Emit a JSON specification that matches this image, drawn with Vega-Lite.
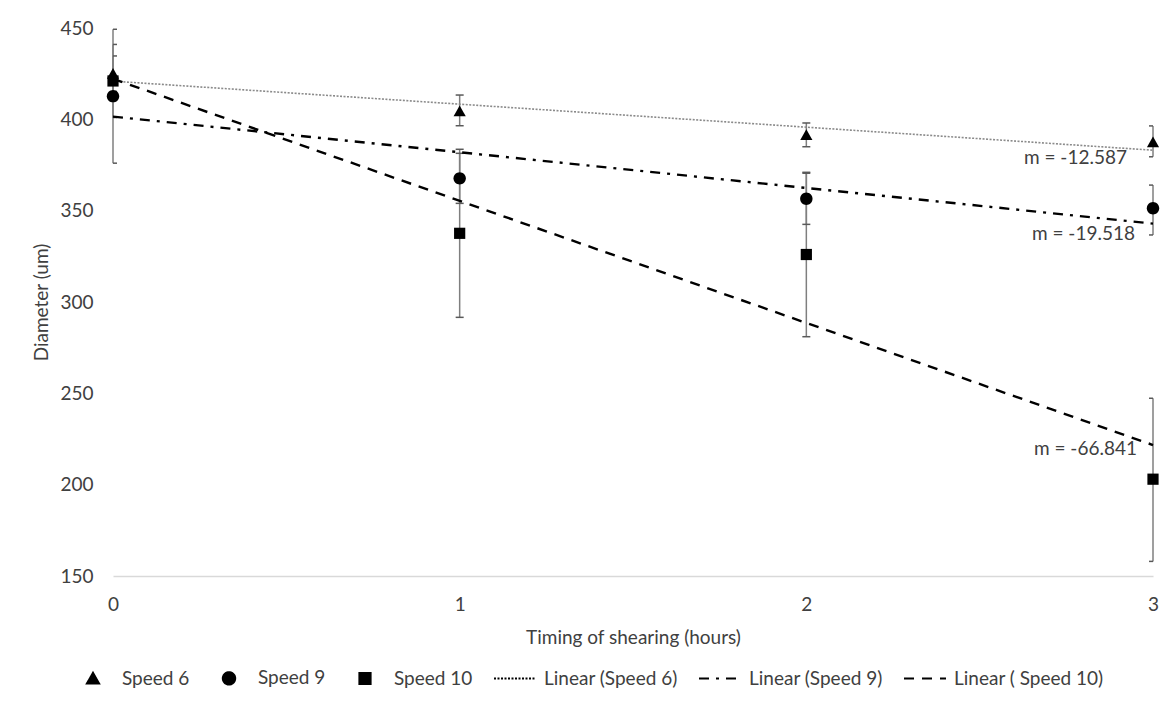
{
  "$schema": "https://vega.github.io/schema/vega-lite/v6.json",
  "width": 1040,
  "height": 548,
  "autosize": "none",
  "padding": {"left": 113, "top": 28, "right": 19, "bottom": 137},
  "background": "white",
  "config": {
    "view": {"stroke": null},
    "font": "Lato",
    "text": {"font": "Lato", "fontSize": 19, "color": "#404040"}
  },
  "datasets": {
    "points": [
      {"series": "Speed 6", "hours": 0, "diameter": 425, "lo": 415.3, "hi": 434.7},
      {"series": "Speed 6", "hours": 1, "diameter": 404.5, "lo": 396.5, "hi": 413.3},
      {"series": "Speed 6", "hours": 2, "diameter": 391.5, "lo": 385, "hi": 398},
      {"series": "Speed 6", "hours": 3, "diameter": 387.5, "lo": 379.5, "hi": 396.4},
      {"series": "Speed 9", "hours": 0, "diameter": 412.7, "lo": 376, "hi": 449.3},
      {"series": "Speed 9", "hours": 1, "diameter": 367.7, "lo": 354, "hi": 381.4},
      {"series": "Speed 9", "hours": 2, "diameter": 356.5, "lo": 342.5, "hi": 370.5},
      {"series": "Speed 9", "hours": 3, "diameter": 351.3, "lo": 336.7, "hi": 364},
      {"series": "Speed 10", "hours": 0, "diameter": 421, "lo": 401, "hi": 441},
      {"series": "Speed 10", "hours": 1, "diameter": 337.6, "lo": 291.6, "hi": 383.6},
      {"series": "Speed 10", "hours": 2, "diameter": 326, "lo": 281, "hi": 371},
      {"series": "Speed 10", "hours": 3, "diameter": 203, "lo": 158, "hi": 247.3}
    ],
    "trends": [
      {"series": "Linear (Speed 6)", "hours": 0, "diameter": 420.9, "label": "m = -12.587"},
      {"series": "Linear (Speed 6)", "hours": 3, "diameter": 383.1, "label": "m = -12.587"},
      {"series": "Linear (Speed 9)", "hours": 0, "diameter": 401.5, "label": "m = -19.518"},
      {"series": "Linear (Speed 9)", "hours": 3, "diameter": 342.9, "label": "m = -19.518"},
      {"series": "Linear ( Speed 10)", "hours": 0, "diameter": 422.2, "label": "m = -66.841"},
      {"series": "Linear ( Speed 10)", "hours": 3, "diameter": 221.7, "label": "m = -66.841"}
    ]
  },
  "encoding": {
    "x": {
      "field": "hours",
      "type": "quantitative",
      "scale": {"domain": [0, 3], "nice": false, "zero": false},
      "axis": {
        "title": "Timing of shearing (hours)",
        "values": [0, 1, 2, 3],
        "format": "d",
        "grid": false,
        "ticks": false,
        "tickSize": 0,
        "domainColor": "#d9d9d9",
        "domainWidth": 1.5,
        "labelFlush": false,
        "labelOverlap": false,
        "labelPadding": 19,
        "labelFont": "Lato",
        "labelFontSize": 19,
        "labelColor": "#404040",
        "titleFont": "Lato",
        "titleFontSize": 19,
        "titleFontWeight": "normal",
        "titleColor": "#404040",
        "titlePadding": 14
      }
    },
    "y": {
      "field": "diameter",
      "type": "quantitative",
      "scale": {"domain": [150, 450], "nice": false, "zero": false},
      "axis": {
        "title": "Diameter (um)",
        "values": [150, 200, 250, 300, 350, 400, 450],
        "grid": false,
        "domain": false,
        "ticks": false,
        "tickSize": 0,
        "labelPadding": 20,
        "labelFont": "Lato",
        "labelFontSize": 19,
        "labelColor": "#404040",
        "titleFont": "Lato",
        "titleFontSize": 19,
        "titleFontWeight": "normal",
        "titleColor": "#404040",
        "titlePadding": 8
      }
    }
  },
  "layer": [
    {
      "data": {"name": "points"},
      "mark": {"type": "rule", "color": "#7f7f7f", "strokeWidth": 1.5},
      "encoding": {
        "y": {"field": "lo", "type": "quantitative"},
        "y2": {"field": "hi"}
      }
    },
    {
      "data": {"name": "points"},
      "mark": {"type": "rule", "color": "#595959", "strokeWidth": 1.5, "xOffset": -4, "x2Offset": 4, "clip": true},
      "encoding": {
        "x2": {"field": "hours"},
        "y": {"field": "hi", "type": "quantitative"}
      }
    },
    {
      "data": {"name": "points"},
      "mark": {"type": "rule", "color": "#595959", "strokeWidth": 1.5, "xOffset": -4, "x2Offset": 4, "clip": true},
      "encoding": {
        "x2": {"field": "hours"},
        "y": {"field": "lo", "type": "quantitative"}
      }
    },
    {
      "data": {"name": "trends"},
      "mark": {"type": "line"},
      "encoding": {
        "strokeDash": {
          "field": "series",
          "type": "nominal",
          "scale": {
            "domain": ["Speed 6", "Speed 9", "Speed 10", "Linear (Speed 6)", "Linear (Speed 9)", "Linear ( Speed 10)"],
            "range": [[1, 0], [1, 0], [1, 0], [2, 1.5], [10, 7, 3, 7], [10, 8]]
          },
          "legend": {
            "title": null,
            "orient": "none",
            "legendX": -42,
            "legendY": 628,
            "direction": "horizontal",
            "columns": 6,
            "padding": 0,
            "symbolSize": 1764,
            "symbolStrokeWidth": 2,
            "symbolFillColor": "black",
            "symbolOpacity": 1,
            "labelOffset": 7,
            "columnPadding": 17,
            "labelFont": "Lato",
            "labelFontSize": 19,
            "labelColor": "#404040",
            "labelLimit": 0,
            "encode": {
              "symbols": {
                "fill": {"value": "black"},
                "opacity": {"value": 1},
                "stroke": {"condition": {"test": "datum.value === 'Linear (Speed 6)'", "value": "#8a8a8a"}, "value": "black"}
              }
            }
          }
        },
        "color": {
          "condition": {"test": "datum.series === 'Linear (Speed 6)'", "value": "#8a8a8a"},
          "value": "black"
        },
        "strokeWidth": {
          "condition": {"test": "datum.series === 'Linear (Speed 6)'", "value": 1.6},
          "value": 2.4
        }
      }
    },
    {
      "data": {"name": "points"},
      "mark": {"type": "point", "filled": true, "opacity": 1, "size": 1764, "color": "black", "strokeWidth": 0},
      "encoding": {
        "shape": {
          "field": "series",
          "type": "nominal",
          "scale": {
            "domain": ["Speed 6", "Speed 9", "Speed 10", "Linear (Speed 6)", "Linear (Speed 9)", "Linear ( Speed 10)"],
            "range": [
              "M0,-0.27L0.29,0.24L-0.29,0.24Z",
              "M0.295,0A0.295,0.295,0,1,1,-0.295,0A0.295,0.295,0,1,1,0.295,0Z",
              "M-0.267,-0.267L0.267,-0.267L0.267,0.267L-0.267,0.267Z",
              "M-1,0L1,0",
              "M-1,0L1,0",
              "M-1,0L1,0"
            ]
          },
          "legend": {
            "title": null,
            "orient": "none",
            "legendX": -42,
            "legendY": 628,
            "direction": "horizontal",
            "columns": 6,
            "padding": 0,
            "symbolSize": 1764,
            "symbolStrokeWidth": 2,
            "symbolFillColor": "black",
            "symbolOpacity": 1,
            "labelOffset": 7,
            "columnPadding": 17,
            "labelFont": "Lato",
            "labelFontSize": 19,
            "labelColor": "#404040",
            "labelLimit": 0,
            "encode": {
              "symbols": {
                "fill": {"value": "black"},
                "opacity": {"value": 1},
                "stroke": {"condition": {"test": "datum.value === 'Linear (Speed 6)'", "value": "#8a8a8a"}, "value": "black"}
              }
            }
          }
        }
      }
    },
    {
      "data": {"name": "trends"},
      "transform": [{"filter": "datum.hours === 3 && datum.series === 'Linear (Speed 6)'"}],
      "mark": {"type": "text", "align": "right", "baseline": "middle", "dx": -26, "dy": 7.5},
      "encoding": {"text": {"field": "label"}}
    },
    {
      "data": {"name": "trends"},
      "transform": [{"filter": "datum.hours === 3 && datum.series === 'Linear (Speed 9)'"}],
      "mark": {"type": "text", "align": "right", "baseline": "middle", "dx": -18, "dy": 10.5},
      "encoding": {"text": {"field": "label"}}
    },
    {
      "data": {"name": "trends"},
      "transform": [{"filter": "datum.hours === 3 && datum.series === 'Linear ( Speed 10)'"}],
      "mark": {"type": "text", "align": "right", "baseline": "middle", "dx": -16, "dy": 3.5},
      "encoding": {"text": {"field": "label"}}
    }
  ]
}
